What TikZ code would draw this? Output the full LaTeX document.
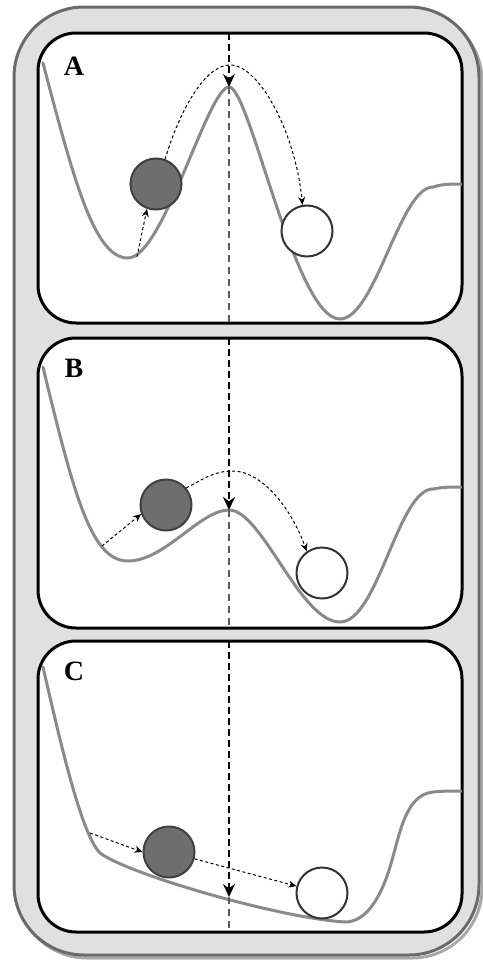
\documentclass[tikz,border=0pt]{standalone}
\usepackage{fontspec}
\setmainfont{Liberation Serif}
\usetikzlibrary{arrows.meta}
\definecolor{framefill}{HTML}{E0E0E0}
\definecolor{frameline}{HTML}{6A6A6A}
\definecolor{shadowc}{HTML}{A8A8A8}
\definecolor{curvec}{HTML}{8A8A8A}
\definecolor{ballfill}{HTML}{6E6E6E}
\definecolor{ballline}{HTML}{404040}
\definecolor{guidec}{HTML}{5A5A5A}
\tikzset{
  panelbox/.style={draw=black, fill=white, line width=3pt, rounded corners=38pt},
  landscape/.style={draw=curvec, line width=3pt, line cap=round},
  darkball/.style={circle, draw=ballline, fill=ballfill, line width=2pt, minimum size=51pt, inner sep=0pt},
  lightball/.style={circle, draw=ballline!80!black, fill=white, line width=2pt, minimum size=51pt, inner sep=0pt},
  droparrow/.style={draw=black, line width=2.3pt, dash pattern=on 7pt off 4pt, -{Stealth[length=13pt, width=12pt]}},
  guideline/.style={draw=guidec, line width=1.6pt, dash pattern=on 7pt off 5pt},
  hoparrow/.style={draw=black, line width=1pt, dash pattern=on 3pt off 2.5pt, -{Stealth[length=8pt, width=7pt]}},
  panellabel/.style={font=\fontsize{28}{28}\selectfont\bfseries, inner sep=0pt}
}
\begin{document}
\begin{tikzpicture}[x=1pt, y=-1pt]
\useasboundingbox (0,0) rectangle (482,961);

% outer frame with its soft shadow
\draw[shadowc, line width=3pt, rounded corners=70pt] (17,11) rectangle (482,958);
\draw[frameline, fill=framefill, line width=3pt, rounded corners=70pt] (14,7) rectangle (479,955);

% ---------- panel A: double well with a high barrier ----------
\draw[panelbox] (38,33) rectangle (462,323);
\begin{scope}
  \clip[rounded corners=38pt] (38,33) rectangle (462,323);
  \draw[landscape] (43,63) .. controls (75,185) and (95,258) .. (128,258)
    .. controls (163,258) and (208,87) .. (229,87)
    .. controls (250,87) and (295,319) .. (340,319)
    .. controls (375,319) and (400,187) .. (433,187)
    .. controls (443,184) and (450,184) .. (464,184);
\end{scope}
\node[panellabel] (labA) at (74,66) {A};
\coordinate (topA) at (229,33);
\coordinate (peakA) at (229,87);
\coordinate (botA) at (229,323);
\draw[guideline] (peakA) -- (botA);
\draw[droparrow] (topA) -- (peakA);
\node[darkball] (ballA) at (156,184) {};
\node[lightball] (goalA) at (307,231) {};
\coordinate (restA) at (137,257);
\draw[hoparrow] (restA) -- (ballA.-110);
\draw[hoparrow] (ballA.70) .. controls (180,110) and (205,65) .. (230,65)
  .. controls (260,65) and (296,135) .. (goalA.100);

% ---------- panel B: lower barrier ----------
\draw[panelbox] (38,338) rectangle (462,628);
\begin{scope}
  \clip[rounded corners=38pt] (38,338) rectangle (462,628);
  \draw[landscape] (43,367) .. controls (75,500) and (92,561) .. (128,561)
    .. controls (165,561) and (200,510) .. (229,510)
    .. controls (262,510) and (300,622) .. (340,622)
    .. controls (378,622) and (398,489) .. (433,489)
    .. controls (443,487) and (450,487) .. (464,487);
\end{scope}
\node[panellabel] (labB) at (74,368) {B};
\coordinate (topB) at (229,338);
\coordinate (peakB) at (229,510);
\coordinate (botB) at (229,628);
\draw[guideline] (peakB) -- (botB);
\draw[droparrow] (topB) -- (peakB);
\node[darkball] (ballB) at (166,505) {};
\node[lightball] (goalB) at (322,573) {};
\coordinate (restB) at (102,546);
\draw[hoparrow] (restB) -- (ballB.-160);
\draw[hoparrow] (ballB.40) .. controls (205,478) and (215,471) .. (233,471)
  .. controls (260,471) and (290,505) .. (goalB.125);

% ---------- panel C: no barrier ----------
\draw[panelbox] (38,641) rectangle (462,932);
\begin{scope}
  \clip[rounded corners=38pt] (38,641) rectangle (462,932);
  \draw[landscape] (43,667) .. controls (62,750) and (82,835) .. (100,853)
    .. controls (130,875) and (280,918) .. (345,922)
    .. controls (365,922) and (380,900) .. (390,867)
    .. controls (400,834) and (405,795) .. (433,792)
    .. controls (443,791) and (450,791) .. (464,791);
\end{scope}
\node[panellabel] (labC) at (74,671) {C};
\coordinate (topC) at (229,641);
\coordinate (peakC) at (229,897);
\coordinate (botC) at (229,932);
\draw[guideline] (peakC) -- (botC);
\draw[droparrow] (topC) -- (peakC);
\node[darkball] (ballC) at (169,852) {};
\node[lightball] (goalC) at (322,893) {};
\coordinate (restC) at (90,833);
\draw[hoparrow] (restC) -- (ballC.west);
\draw[hoparrow] (ballC.-15) -- (goalC.165);
\end{tikzpicture}
\end{document}
